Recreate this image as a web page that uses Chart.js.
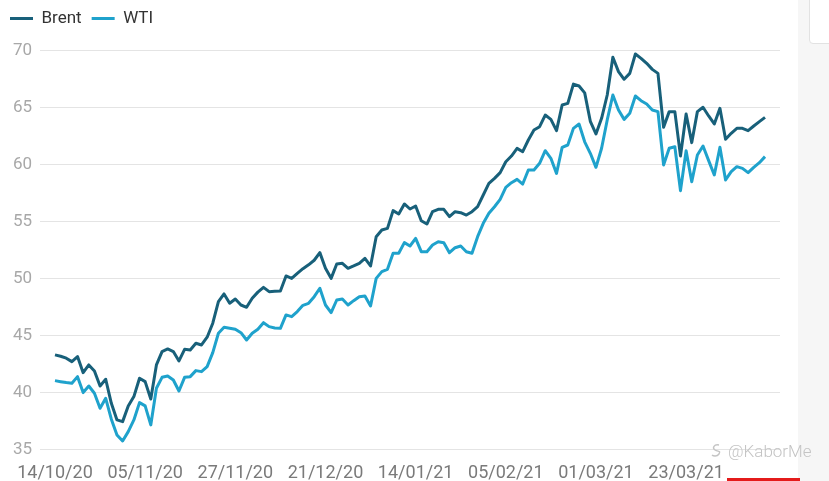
<!DOCTYPE html>
<html>
<head>
<meta charset="utf-8">
<script src="https://cdn.jsdelivr.net/npm/chart.js@4.4.1/dist/chart.umd.min.js"></script>
<style>
html,body{margin:0;padding:0;background:#fff;width:829px;height:481px;overflow:hidden;font-family:Roboto,sans-serif;}
#wrap{position:absolute;left:0;top:0;width:800px;height:481px;}
#strip{position:absolute;left:798px;top:0;width:31px;height:481px;background:#f6f6f6;}
#box{position:absolute;left:809px;top:-1px;width:30px;height:43px;background:#fff;border:1px solid #e2e2e2;border-radius:0 0 0 4px;}
#wm{position:absolute;left:710px;top:441px;font-family:Roboto,sans-serif;font-weight:300;font-size:17px;color:#c4c4c4;white-space:nowrap;display:flex;align-items:center;gap:4px;}
#red{position:absolute;left:727px;top:478px;width:73px;height:3px;background:#e41b1b;}
</style>
</head>
<body>
<div id="strip"></div>
<div id="box"></div>
<div id="wrap"><canvas id="c" width="800" height="481"></canvas></div>
<div id="wm"><svg width="14" height="16" viewBox="0 0 14 16"><path d="M9 2 C4 1 2 5 5 7 C8 9 11 7 9 11 C7 14 3 13 2 12" fill="none" stroke="#c4c4c4" stroke-width="1.4"/></svg><span>@KaborMe</span></div>
<div id="red"></div>
<script>
// Trading days (categories)
const labels = [
 "14/10/20","15/10/20","16/10/20","19/10/20","20/10/20","21/10/20","22/10/20","23/10/20","26/10/20","27/10/20","28/10/20","29/10/20","30/10/20",
 "02/11/20","03/11/20","04/11/20","05/11/20","06/11/20","09/11/20","10/11/20","11/11/20","12/11/20","13/11/20","16/11/20","17/11/20","18/11/20","19/11/20","20/11/20","23/11/20","24/11/20","25/11/20","26/11/20","27/11/20",
 "30/11/20","01/12/20","02/12/20","03/12/20","04/12/20","07/12/20","08/12/20","09/12/20","10/12/20","11/12/20","14/12/20","15/12/20","16/12/20","17/12/20","18/12/20","21/12/20","22/12/20","23/12/20","24/12/20","28/12/20","29/12/20","30/12/20","31/12/20",
 "04/01/21","05/01/21","06/01/21","07/01/21","08/01/21","11/01/21","12/01/21","13/01/21","14/01/21","15/01/21","18/01/21","19/01/21","20/01/21","21/01/21","22/01/21","25/01/21","26/01/21","27/01/21","28/01/21","29/01/21",
 "01/02/21","02/02/21","03/02/21","04/02/21","05/02/21","08/02/21","09/02/21","10/02/21","11/02/21","12/02/21","15/02/21","16/02/21","17/02/21","18/02/21","19/02/21","22/02/21","23/02/21","24/02/21","25/02/21","26/02/21",
 "01/03/21","02/03/21","03/03/21","04/03/21","05/03/21","08/03/21","09/03/21","10/03/21","11/03/21","12/03/21","15/03/21","16/03/21","17/03/21","18/03/21","19/03/21","22/03/21","23/03/21","24/03/21","25/03/21","26/03/21","29/03/21","30/03/21","31/03/21",
 "01/04/21","05/04/21","06/04/21","07/04/21","08/04/21","09/04/21","12/04/21","13/04/21"
];

const brent = [
 43.29,43.17,43.0,42.70,43.14,41.73,42.41,41.88,40.56,41.15,39.04,37.58,37.43,
 38.81,39.63,41.24,40.94,39.42,42.41,43.58,43.81,43.58,42.76,43.78,43.72,44.31,44.16,44.84,46.07,47.97,48.64,47.82,48.2,
 47.67,47.47,48.26,48.8,49.22,48.84,48.87,48.90,50.22,50.01,50.45,50.86,51.2,51.6,52.27,50.89,50.01,51.27,51.33,50.89,51.10,51.33,51.77,
 51.10,53.67,54.26,54.40,55.96,55.66,56.54,56.10,56.36,55.07,54.78,55.86,56.07,56.07,55.43,55.86,55.78,55.57,55.86,56.3,
 57.33,58.35,58.79,59.29,60.25,60.75,61.42,61.13,62.16,63.03,63.33,64.35,63.97,62.98,65.23,65.38,67.07,66.9,66.3,63.8,
 62.69,64.06,66.11,69.42,68.16,67.49,68.01,69.71,69.33,68.89,68.36,68.01,63.27,64.65,64.65,60.76,64.44,61.93,64.65,65.03,64.27,63.57,64.94,
 62.22,62.75,63.18,63.18,62.98,63.39,63.77,64.15
];

const wti = [
 41.03,40.94,40.86,40.80,41.38,39.98,40.56,39.92,38.60,39.48,37.64,36.26,35.73,
 36.55,37.58,39.10,38.81,37.14,40.36,41.32,41.44,41.09,40.12,41.32,41.38,41.91,41.82,42.26,43.49,45.19,45.71,45.63,45.54,
 45.24,44.60,45.19,45.54,46.12,45.77,45.65,45.62,46.80,46.65,47.09,47.64,47.82,48.40,49.14,47.67,47.0,48.11,48.20,47.67,48.05,48.40,48.46,
 47.59,50.01,50.60,50.80,52.21,52.21,53.15,52.85,53.52,52.35,52.35,52.94,53.23,53.14,52.26,52.7,52.85,52.35,52.21,53.67,
 54.84,55.72,56.30,56.95,58.0,58.41,58.70,58.29,59.52,59.52,60.11,61.22,60.55,59.23,61.51,61.72,63.18,63.56,62.0,60.99,
 59.76,61.43,63.92,66.11,64.79,63.97,64.50,66.02,65.61,65.32,64.79,64.65,59.97,61.43,61.57,57.71,61.22,58.50,60.84,61.63,60.35,59.09,61.52,
 58.65,59.38,59.82,59.67,59.29,59.76,60.17,60.70
];

const yTickValues = [35, 40, 45, 50, 55, 60, 65, 70];
const xTickIndices = [0, 16, 32, 48, 64, 80, 96, 112];

const BRENT_COLOR = '#18607a';
const WTI_COLOR = '#1fa2cc';

const legendSpacing = {
  id: 'legendSpacing',
  beforeInit(chart) {
    const lg = chart.legend;
    if (!lg) return;
    const fit = lg.fit;
    lg.fit = function () { fit.call(this); this.height += 13.7; this.left += 2; };
  }
};

new Chart(document.getElementById('c'), {
  type: 'line',
  data: {
    datasets: [
      { label: 'Brent', data: brent.map((v, i) => ({ x: i, y: v })), borderColor: BRENT_COLOR, backgroundColor: BRENT_COLOR, borderWidth: 3, pointRadius: 0, tension: 0, borderJoinStyle: 'round' },
      { label: 'WTI', data: wti.map((v, i) => ({ x: i, y: v })), borderColor: WTI_COLOR, backgroundColor: WTI_COLOR, borderWidth: 3, pointRadius: 0, tension: 0, borderJoinStyle: 'round' }
    ]
  },
  options: {
    responsive: false,
    animation: false,
    layout: { padding: { left: 0, right: 20, top: 0, bottom: 0 } },
    plugins: {
      legend: {
        align: 'start',
        labels: {
          boxWidth: 23, boxHeight: 3, padding: 10, color: '#333333',
          font: { family: 'Roboto', size: 17 },
          generateLabels: chart => Chart.defaults.plugins.legend.labels.generateLabels(chart).map(it => Object.assign(it, { lineWidth: 0 }))
        }
      },
      tooltip: { enabled: false }
    },
    scales: {
      x: {
        type: 'linear',
        min: -2.66,
        max: 128.66,
        grid: { display: false },
        border: { display: false },
        afterBuildTicks: s => { s.ticks = xTickIndices.map(v => ({ value: v })); },
        afterFit: s => { s.height = 31.7; },
        ticks: {
          autoSkip: false,
          maxRotation: 0,
          padding: 5,
          color: '#7a7a7a',
          font: { family: 'Roboto', size: 18 },
          callback: v => labels[v]
        }
      },
      y: {
        min: 35,
        max: 70,
        afterBuildTicks: s => { s.ticks = yTickValues.map(v => ({ value: v })); },
        afterFit: s => { s.width = 40; },
        grid: { color: '#e4e4e4', drawTicks: false },
        border: { display: false },
        ticks: { padding: 8, color: '#a8a8a8', font: { family: 'Roboto', size: 17 } }
      }
    }
  },
  plugins: [legendSpacing]
});
</script>
</body>
</html>
